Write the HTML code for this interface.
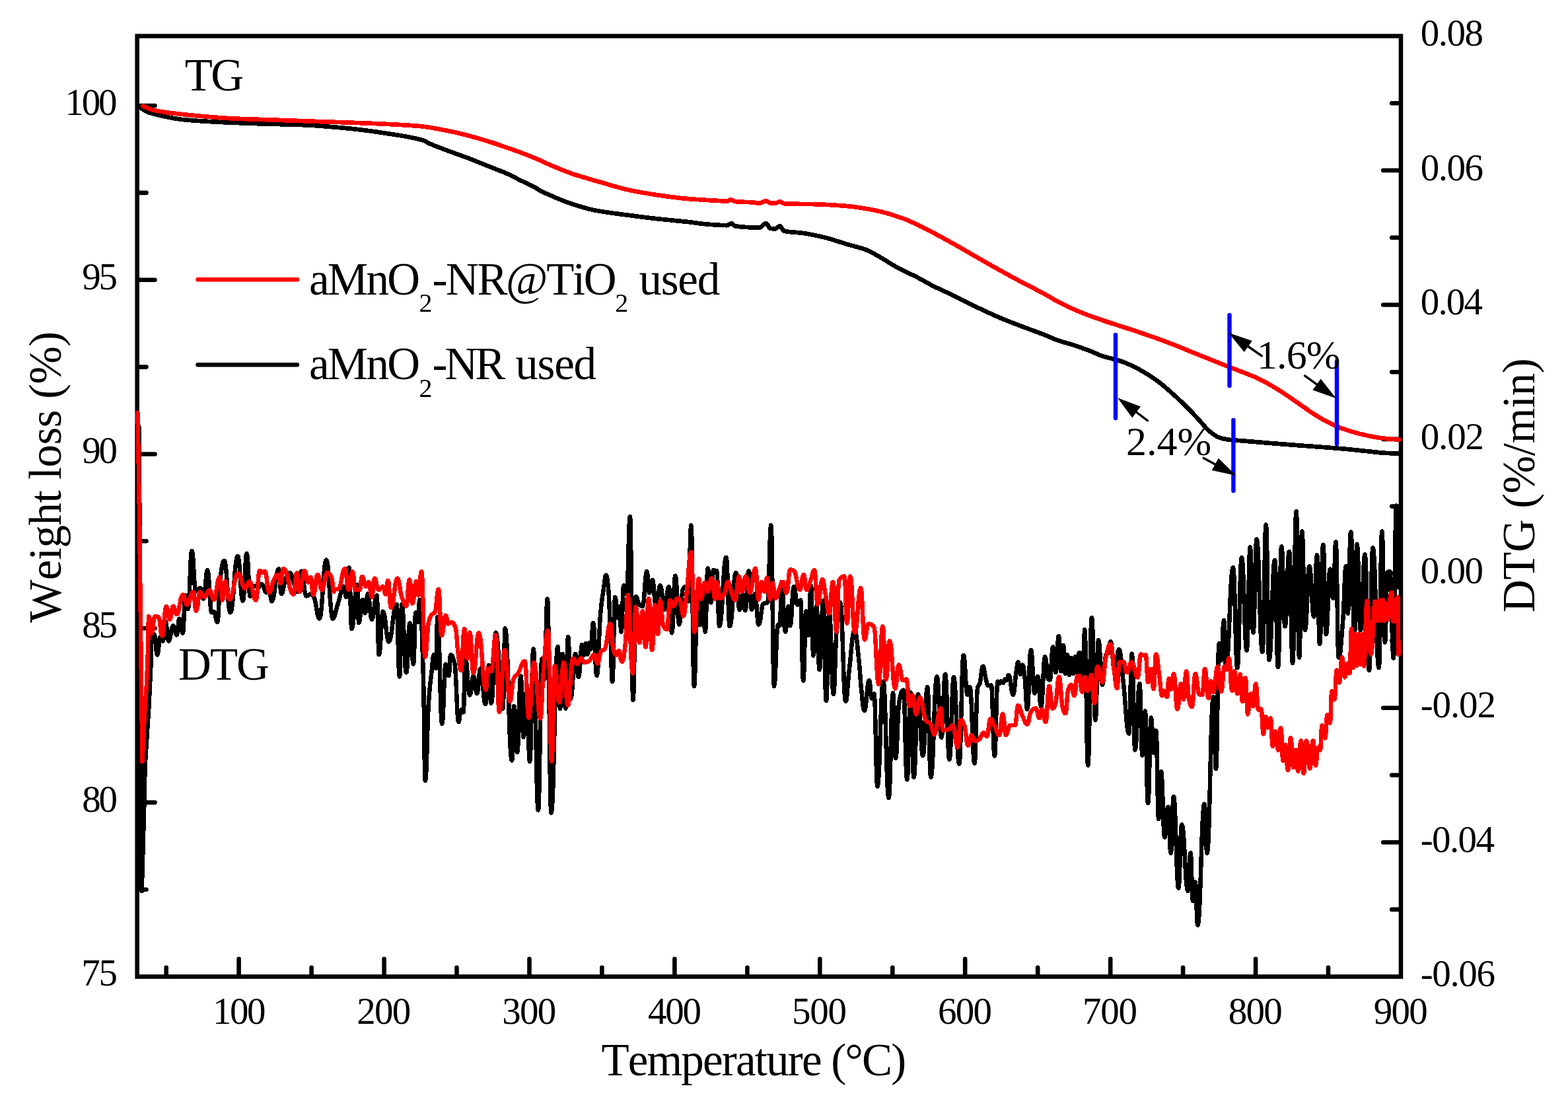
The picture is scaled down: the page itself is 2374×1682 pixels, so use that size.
<!DOCTYPE html>
<html lang="en"><head><meta charset="utf-8"><title>TG / DTG</title>
<style>html,body{margin:0;padding:0;background:#fff}body{width:2374px;height:1682px;overflow:hidden}svg{display:block}text{font-family:"Liberation Serif","Times New Roman",serif;fill:#000;white-space:pre;font-kerning:none}</style>
</head><body>
<svg width="2374" height="1682" viewBox="0 0 2374 1682">
<rect width="2374" height="1682" fill="#fff"/>
<g stroke="#000" stroke-width="6.6" fill="none" stroke-linecap="round">
<line x1="251.7" y1="1477.6" x2="251.7" y2="1464.8"/>
<line x1="361.6" y1="1477.6" x2="361.6" y2="1451.8"/>
<line x1="471.6" y1="1477.6" x2="471.6" y2="1464.8"/>
<line x1="581.6" y1="1477.6" x2="581.6" y2="1451.8"/>
<line x1="691.5" y1="1477.6" x2="691.5" y2="1464.8"/>
<line x1="801.5" y1="1477.6" x2="801.5" y2="1451.8"/>
<line x1="911.4" y1="1477.6" x2="911.4" y2="1464.8"/>
<line x1="1021.4" y1="1477.6" x2="1021.4" y2="1451.8"/>
<line x1="1131.4" y1="1477.6" x2="1131.4" y2="1464.8"/>
<line x1="1241.3" y1="1477.6" x2="1241.3" y2="1451.8"/>
<line x1="1351.3" y1="1477.6" x2="1351.3" y2="1464.8"/>
<line x1="1461.2" y1="1477.6" x2="1461.2" y2="1451.8"/>
<line x1="1571.2" y1="1477.6" x2="1571.2" y2="1464.8"/>
<line x1="1681.2" y1="1477.6" x2="1681.2" y2="1451.8"/>
<line x1="1791.1" y1="1477.6" x2="1791.1" y2="1464.8"/>
<line x1="1901.1" y1="1477.6" x2="1901.1" y2="1451.8"/>
<line x1="2011.0" y1="1477.6" x2="2011.0" y2="1464.8"/>
<line x1="208.7" y1="1346.7" x2="221.5" y2="1346.7"/>
<line x1="208.7" y1="1214.9" x2="234.5" y2="1214.9"/>
<line x1="208.7" y1="1083.0" x2="221.5" y2="1083.0"/>
<line x1="208.7" y1="951.2" x2="234.5" y2="951.2"/>
<line x1="208.7" y1="819.3" x2="221.5" y2="819.3"/>
<line x1="208.7" y1="687.5" x2="234.5" y2="687.5"/>
<line x1="208.7" y1="555.6" x2="221.5" y2="555.6"/>
<line x1="208.7" y1="423.8" x2="234.5" y2="423.8"/>
<line x1="208.7" y1="291.9" x2="221.5" y2="291.9"/>
<line x1="208.7" y1="160.1" x2="234.5" y2="160.1"/>
<line x1="2120.0" y1="1376.9" x2="2107.2" y2="1376.9"/>
<line x1="2120.0" y1="1275.2" x2="2094.2" y2="1275.2"/>
<line x1="2120.0" y1="1173.5" x2="2107.2" y2="1173.5"/>
<line x1="2120.0" y1="1071.7" x2="2094.2" y2="1071.7"/>
<line x1="2120.0" y1="970.0" x2="2107.2" y2="970.0"/>
<line x1="2120.0" y1="868.3" x2="2094.2" y2="868.3"/>
<line x1="2120.0" y1="766.6" x2="2107.2" y2="766.6"/>
<line x1="2120.0" y1="664.9" x2="2094.2" y2="664.9"/>
<line x1="2120.0" y1="563.2" x2="2107.2" y2="563.2"/>
<line x1="2120.0" y1="461.5" x2="2094.2" y2="461.5"/>
<line x1="2120.0" y1="359.7" x2="2107.2" y2="359.7"/>
<line x1="2120.0" y1="258.0" x2="2094.2" y2="258.0"/>
<line x1="2120.0" y1="156.3" x2="2107.2" y2="156.3"/>
</g>
<rect x="207.7" y="54.6" width="1913.3" height="1424.0" stroke="#000" stroke-width="6.6" fill="none"/>
<g fill="none" stroke-linejoin="round" stroke-linecap="round" shape-rendering="crispEdges">
<path stroke="#000" stroke-width="6.5" d="M210.3,646.0L211.6,800.0L212.9,1050.0L214.7,1349.0L218.2,1225.0L219.6,1160.0L225.5,1069.0L228.3,1010.0 M228.3,1010.0C228.9,989.3 229.0,965.5 229.6,964.1C231.4,960.0 231.8,960.2 233.6,960.2C235.6,960.2 236.1,991.6 238.1,991.6C240.2,991.6 240.7,964.1 242.7,964.1C244.5,964.1 244.9,970.6 246.6,970.6C248.4,970.6 248.8,940.5 250.6,940.5C252.6,940.5 253.1,970.6 255.2,970.6C258.4,970.6 259.1,947.1 262.4,947.1C264.7,947.1 265.2,961.5 267.6,961.5C269.4,961.5 269.8,936.6 271.5,936.6C273.9,936.6 274.4,958.8 276.8,958.8C278.5,958.8 278.9,901.3 280.7,901.3C282.4,901.3 282.8,922.2 284.6,922.2C287.3,922.2 287.8,833.8 290.5,833.8C293.1,833.8 293.7,894.7 296.4,894.7C299.3,894.7 300.0,890.1 302.9,890.1C305.3,890.1 305.8,906.5 308.2,906.5C310.8,906.5 311.4,863.3 314.1,863.3C317.0,863.3 317.7,927.4 320.6,927.4C322.1,927.4 322.4,926.1 323.9,926.1C326.2,926.1 326.8,941.8 329.1,941.8C331.2,941.8 331.6,887.6 333.7,873.8C336.3,855.9 336.9,848.9 339.6,848.9C343.7,848.9 344.6,927.4 348.7,927.4C353.8,927.4 354.9,841.7 359.9,841.7C363.4,841.7 364.2,909.8 367.7,909.8C370.4,909.8 371.0,837.8 373.6,837.8C376.0,837.8 376.5,903.2 378.8,903.2C381.2,903.2 381.7,886.9 384.1,886.9C387.0,886.9 387.7,889.5 390.6,889.5C393.0,889.5 393.5,884.2 395.9,884.2C399.4,884.2 400.2,897.3 403.7,897.3C405.2,897.3 405.5,889.5 407.0,889.5C409.1,889.5 409.5,910.4 411.6,910.4C416.3,910.4 417.3,861.3 422.0,861.3C423.8,861.3 424.2,899.3 426.0,899.3C428.9,899.3 429.6,882.3 432.5,876.4C435.5,870.5 436.1,867.2 439.1,867.2C441.4,867.2 441.9,875.8 444.3,881.6C447.2,888.9 447.9,896.0 450.8,896.0C453.2,896.0 453.7,864.6 456.1,864.6C459.6,864.6 460.4,902.6 463.9,902.6C467.5,902.6 468.2,898.6 471.8,898.6C473.5,898.6 473.9,901.2 475.7,905.2C479.2,913.1 480.0,936.6 483.6,936.6C488.3,936.6 489.3,847.6 494.0,847.6C498.2,847.6 499.1,925.6 503.2,935.9C503.3,936.3 503.4,936.5 503.5,936.5C507.4,936.5 508.3,923.5 512.2,912.1C515.8,901.5 516.7,887.7 520.3,887.7C522.1,887.7 522.6,904.0 524.4,904.0C526.2,904.0 526.6,859.3 528.4,859.3C530.3,859.3 530.7,952.1 532.5,952.1C536.2,952.1 537.0,885.0 540.6,885.0C541.9,885.0 542.1,943.3 543.3,943.3C545.8,943.3 546.3,908.0 548.8,908.0C550.6,908.0 551.0,928.4 552.8,928.4C554.7,928.4 555.1,898.6 556.9,898.6C559.6,898.6 560.2,937.8 563.0,937.8C566.3,937.8 567.1,901.3 570.4,901.3C572.0,901.3 572.3,991.3 573.8,991.3C576.6,991.3 577.2,925.6 579.9,925.6C583.9,925.6 584.8,971.7 588.7,971.7C593.9,971.7 595.0,914.8 600.2,914.8C602.4,914.8 602.8,1024.5 605.0,1024.5C606.5,1024.5 606.8,914.8 608.4,914.8C611.4,914.8 612.1,1018.4 615.1,1018.4C617.6,1018.4 618.1,943.3 620.5,943.3C623.0,943.3 623.5,1005.6 626.0,1005.6C627.5,1005.6 627.8,927.0 629.4,927.0C630.9,927.0 631.2,941.9 632.7,941.9C634.0,941.9 634.2,908.0 635.4,908.0C637.9,908.0 638.4,945.9 640.9,1023.2C642.2,1065.7 642.5,1181.9 643.8,1181.9C646.2,1181.9 646.7,1097.1 649.0,1063.8C650.8,1037.5 651.2,1036.4 653.1,1020.5C654.9,1004.6 655.3,990.7 657.1,990.7C658.3,990.7 658.6,1012.3 659.8,1012.3C661.0,1012.3 661.3,933.8 662.5,933.8C665.6,933.8 666.3,1095.9 669.3,1095.9C671.7,1095.9 672.3,1005.6 674.7,1005.6C676.9,1005.6 677.3,1023.2 679.5,1023.2C680.7,1023.2 681.0,991.3 682.2,991.3C684.9,991.3 685.5,994.1 688.3,1004.2C691.0,1014.3 691.6,1093.2 694.4,1093.2C696.0,1093.2 696.4,1074.6 698.0,1074.6C699.6,1074.6 700.0,1078.3 701.5,1078.3C702.9,1078.3 703.2,996.1 704.5,996.1C707.6,996.1 708.2,1052.6 711.3,1052.6C713.7,1052.6 714.3,1023.2 716.7,1023.2C719.2,1023.2 719.7,1049.9 722.1,1049.9C724.6,1049.9 725.1,1012.3 727.5,1012.3C730.9,1012.3 731.6,1066.1 735.0,1066.1C737.4,1066.1 738.0,1006.9 740.4,1006.9C741.9,1006.9 742.3,1064.8 743.8,1064.8C746.9,1064.8 747.5,957.5 750.6,957.5C755.5,957.5 756.5,1072.9 761.4,1072.9C762.9,1072.9 763.3,951.4 764.8,951.4C769.4,951.4 770.4,1151.4 775.0,1151.4C776.5,1151.4 776.8,1068.8 778.3,1068.8C780.5,1068.8 780.9,1139.2 783.1,1139.2C785.5,1139.2 786.1,1023.2 788.5,1023.2C790.3,1023.2 790.7,1116.2 792.6,1116.2C794.8,1116.2 795.3,1045.0 797.5,1045.0C799.5,1045.0 800.0,1152.7 802.0,1152.7C804.5,1152.7 805.1,982.4 807.6,982.4C810.9,982.4 811.6,1226.6 814.9,1226.6C817.4,1226.6 818.0,997.2 820.5,997.2C822.2,997.2 822.5,1028.6 824.2,1028.6C826.3,1028.6 826.7,906.7 828.8,906.7C831.4,906.7 831.9,1230.6 834.5,1230.6C839.0,1230.6 840.0,978.8 844.5,978.8C846.1,978.8 846.4,1072.8 848.0,1072.8C849.8,1072.8 850.1,989.8 851.9,989.8C853.8,989.8 854.3,1072.8 856.2,1072.8C858.0,1072.8 858.4,964.0 860.2,964.0C861.9,964.0 862.2,1058.2 863.9,1058.2C867.2,1058.2 868.0,989.8 871.3,989.8C873.4,989.8 873.8,1024.9 875.9,1024.9C878.4,1024.9 879.0,976.0 881.4,976.0C882.7,976.0 883.0,991.7 884.2,991.7C885.5,991.7 885.7,974.1 887.0,974.1C888.2,974.1 888.5,990.8 889.8,990.8C890.8,990.8 891.1,973.2 892.2,973.2C893.2,973.2 893.5,982.5 894.6,982.5C896.1,982.5 896.5,942.7 898.1,942.7C900.6,942.7 901.1,1023.1 903.6,1023.1C906.1,1023.1 906.7,955.3 909.2,928.9C911.4,905.1 911.9,904.9 914.1,890.1C915.6,880.2 916.0,870.7 917.5,870.7C919.0,870.7 919.3,875.7 920.8,888.2C922.3,900.7 922.6,920.7 924.1,954.7C925.5,985.0 925.7,1032.3 927.1,1032.3C929.0,1032.3 929.4,903.9 931.3,903.9C933.4,903.9 933.9,936.3 935.9,936.3C936.8,936.3 937.0,917.8 937.8,917.8C939.0,917.8 939.3,956.6 940.6,956.6C942.2,956.6 942.6,886.4 944.3,886.4C946.3,886.4 946.8,899.3 948.9,899.3C951.1,899.3 951.6,782.0 953.9,782.0C955.9,782.0 956.4,1060.0 958.5,1060.0C960.4,1060.0 960.8,903.0 962.7,903.0C965.2,903.0 965.8,914.3 968.3,915.9C970.4,917.3 970.8,917.8 972.9,917.8C975.8,917.8 976.4,865.1 979.4,865.1C981.0,865.1 981.4,897.5 983.1,897.5C985.1,897.5 985.6,878.1 987.7,878.1C990.2,878.1 990.7,917.8 993.2,917.8C996.1,917.8 996.8,886.4 999.7,886.4C1002.6,886.4 1003.2,923.3 1006.1,923.3C1009.1,923.3 1009.7,888.2 1012.6,888.2C1014.7,888.2 1015.2,958.4 1017.2,958.4C1019.6,958.4 1020.1,871.6 1022.4,871.6C1025.1,871.6 1025.7,945.5 1028.3,945.5C1030.8,945.5 1031.4,895.5 1033.9,891.9C1035.9,888.9 1036.4,888.2 1038.5,888.2C1040.1,888.2 1040.5,910.4 1042.2,910.4C1044.1,910.4 1044.5,794.9 1046.4,794.9C1048.4,794.9 1048.9,1038.8 1050.9,1038.8C1053.2,1038.8 1053.7,899.3 1056.0,899.3C1057.7,899.3 1058.1,946.4 1059.7,946.4C1061.4,946.4 1061.8,899.3 1063.4,899.3C1065.3,899.3 1065.8,956.6 1067.7,956.6C1069.5,956.6 1069.9,860.5 1071.7,860.5C1073.8,860.5 1074.3,912.3 1076.3,912.3C1078.0,912.3 1078.4,863.3 1080.0,863.3C1082.1,863.3 1082.6,864.2 1084.7,864.2C1084.8,864.2 1084.8,864.2 1085.0,864.2C1086.9,864.2 1087.3,948.3 1089.2,948.3C1093.8,948.3 1094.8,843.9 1099.4,843.9C1101.9,843.9 1102.4,948.3 1104.9,948.3C1109.1,948.3 1110.0,867.0 1114.2,867.0C1116.7,867.0 1117.2,923.3 1119.7,923.3C1121.8,923.3 1122.3,899.3 1124.3,899.3C1126.2,899.3 1126.6,924.3 1128.4,924.3C1130.7,924.3 1131.2,864.2 1133.6,864.2C1135.7,864.2 1136.1,923.3 1138.2,923.3C1140.3,923.3 1140.7,899.3 1142.8,899.3C1145.5,899.3 1146.1,945.5 1148.7,945.5C1151.9,945.5 1152.6,915.8 1155.7,914.1C1158.7,912.6 1159.3,914.0 1162.2,912.3C1164.5,910.9 1165.1,794.9 1167.4,794.9C1169.5,794.9 1169.9,1038.8 1172.0,1038.8C1174.7,1038.8 1175.3,945.5 1177.9,945.5C1179.2,945.5 1179.4,947.4 1180.7,947.4C1181.9,947.4 1182.2,880.8 1183.5,880.8C1185.9,880.8 1186.5,956.6 1189.0,956.6C1191.1,956.6 1191.5,917.8 1193.6,917.8C1194.9,917.8 1195.1,947.4 1196.4,947.4C1198.9,947.4 1199.4,888.2 1201.9,888.2C1204.4,888.2 1205.0,915.9 1207.5,915.9C1209.5,915.9 1210.0,908.6 1212.1,908.6C1213.9,908.6 1214.3,1030.5 1216.2,1030.5C1218.1,1030.5 1218.5,925.2 1220.4,925.2C1222.1,925.2 1222.4,962.1 1224.1,962.1C1225.8,962.1 1226.1,886.4 1227.8,886.4C1229.5,886.4 1229.8,992.6 1231.5,992.6C1233.6,992.6 1234.0,917.8 1236.1,917.8C1238.2,917.8 1238.6,1013.9 1240.7,1013.9C1243.2,1013.9 1243.8,909.5 1246.3,909.5C1248.3,909.5 1248.8,1061.0 1250.9,1061.0C1253.0,1061.0 1253.4,927.0 1255.5,927.0C1258.4,927.0 1259.1,1050.8 1262.0,1050.8C1264.0,1050.8 1264.5,978.4 1266.6,954.7C1269.1,926.4 1269.6,912.3 1272.1,912.3C1275.9,912.3 1276.7,1061.9 1280.4,1061.9C1282.7,1061.9 1283.2,1035.6 1285.5,1016.9C1289.3,986.5 1290.1,954.7 1293.9,954.7C1296.8,954.7 1297.4,972.6 1300.3,998.5C1302.0,1013.2 1302.4,1027.7 1304.0,1042.8C1306.1,1061.7 1306.6,1076.1 1308.6,1076.1C1312.0,1076.1 1312.7,1029.9 1316.0,1029.9C1317.7,1029.9 1318.1,1057.6 1319.7,1057.6C1321.4,1057.6 1321.8,1050.2 1323.4,1050.2C1325.7,1050.2 1326.2,1190.6 1328.4,1190.6C1332.4,1190.6 1333.3,1031.7 1337.3,1031.7C1341.0,1031.7 1341.8,1208.2 1345.6,1208.2C1348.5,1208.2 1349.1,1049.3 1352.0,1049.3C1353.9,1049.3 1354.3,1148.1 1356.1,1148.1C1358.4,1148.1 1359.0,1074.8 1361.3,1063.1C1364.2,1048.6 1364.8,1044.7 1367.8,1044.7C1370.2,1044.7 1370.8,1180.4 1373.3,1180.4C1375.8,1180.4 1376.3,1048.4 1378.8,1048.4C1380.9,1048.4 1381.4,1176.7 1383.5,1176.7C1386.4,1176.7 1387.0,1051.1 1389.9,1051.1C1393.2,1051.1 1394.0,1144.4 1397.3,1144.4C1400.4,1144.4 1401.1,1040.0 1404.1,1040.0C1406.5,1040.0 1407.0,1176.7 1409.3,1176.7C1413.5,1176.7 1414.4,1024.3 1418.6,1024.3C1421.6,1024.3 1422.3,1116.7 1425.4,1116.7C1428.0,1116.7 1428.5,1020.6 1431.1,1020.6C1433.9,1020.6 1434.6,1150.0 1437.4,1150.0C1440.4,1150.0 1441.1,1025.3 1444.0,1025.3C1447.7,1025.3 1448.5,1156.4 1452.2,1156.4C1455.2,1156.4 1455.8,992.0 1458.8,992.0C1461.5,992.0 1462.1,1052.0 1464.7,1052.0C1466.4,1052.0 1466.8,1040.0 1468.4,1040.0C1471.6,1040.0 1472.3,1155.5 1475.5,1155.5C1477.5,1155.5 1478.0,1047.5 1480.1,1041.0C1481.5,1036.6 1481.8,1039.0 1483.2,1035.4C1485.5,1029.7 1486.0,1008.6 1488.2,1008.6C1490.1,1008.6 1490.5,1020.3 1492.5,1027.1C1494.1,1033.0 1494.5,1038.2 1496.1,1038.2C1498.2,1038.2 1498.7,1037.6 1500.8,1037.6C1503.0,1037.6 1503.5,1144.4 1505.8,1144.4C1507.9,1144.4 1508.4,1031.7 1510.6,1031.7C1511.7,1031.7 1512.0,1034.7 1513.1,1034.7C1514.4,1034.7 1514.7,1031.4 1515.9,1031.4C1517.2,1031.4 1517.4,1033.9 1518.7,1033.9C1519.9,1033.9 1520.2,1028.4 1521.5,1028.4C1522.7,1028.4 1523.0,1029.9 1524.2,1029.9C1525.5,1029.9 1525.8,1021.8 1527.0,1021.8C1530.2,1021.8 1530.9,1052.0 1534.0,1052.0C1536.1,1052.0 1536.6,1029.1 1538.6,1016.9C1540.0,1009.2 1540.3,1002.5 1541.6,1002.5C1543.2,1002.5 1543.5,1020.8 1545.1,1020.8C1546.5,1020.8 1546.8,1006.6 1548.2,1006.6C1549.7,1006.6 1550.1,1014.1 1551.6,1026.2C1553.2,1039.6 1553.6,1074.2 1555.3,1074.2C1557.8,1074.2 1558.3,983.7 1560.8,983.7C1563.4,983.7 1563.9,1049.6 1566.5,1049.6C1568.5,1049.6 1569.0,1023.8 1571.1,1023.8C1573.4,1023.8 1573.9,1070.0 1576.3,1070.0C1578.9,1070.0 1579.5,994.2 1582.2,994.2C1584.7,994.2 1585.2,1029.3 1587.7,1029.3C1588.5,1029.3 1588.7,1029.3 1589.6,1029.3C1591.6,1029.3 1592.1,979.4 1594.2,979.4C1596.1,979.4 1596.5,1018.2 1598.4,1018.2C1600.4,1018.2 1600.9,962.8 1602.9,962.8C1604.4,962.8 1604.8,1016.4 1606.4,1016.4C1607.9,1016.4 1608.3,976.7 1609.9,976.7C1611.3,976.7 1611.6,1020.1 1613.0,1020.1C1614.4,1020.1 1614.6,991.4 1616.0,991.4C1617.3,991.4 1617.6,1021.9 1618.9,1021.9C1620.3,1021.9 1620.7,995.7 1622.1,995.7C1623.4,995.7 1623.7,1020.1 1625.0,1020.1C1626.4,1020.1 1626.8,993.8 1628.2,993.8C1629.5,993.8 1629.8,1019.7 1631.1,1019.7C1632.4,1019.7 1632.6,987.8 1633.9,987.8C1635.0,987.8 1635.2,1020.1 1636.3,1020.1C1637.2,1020.1 1637.4,988.3 1638.3,988.3C1639.1,988.3 1639.2,1040.4 1640.0,1040.4C1641.0,1040.4 1641.2,952.7 1642.2,952.7C1644.5,952.7 1645.0,1158.6 1647.2,1158.6C1649.8,1158.6 1650.3,935.1 1652.9,935.1C1655.4,935.1 1656.0,1090.3 1658.5,1090.3C1660.5,1090.3 1661.0,969.3 1663.1,969.3C1665.7,969.3 1666.3,1036.7 1669.0,1036.7C1671.5,1036.7 1672.0,992.7 1674.5,990.5C1676.2,989.0 1676.6,990.2 1678.2,988.7C1679.6,987.3 1680.0,971.1 1681.4,971.1C1684.1,971.1 1684.7,1014.5 1687.5,1014.5C1690.5,1014.5 1691.2,983.1 1694.3,983.1C1697.0,983.1 1697.7,1006.7 1700.4,1029.3C1704.4,1062.2 1705.3,1110.6 1709.3,1110.6C1711.3,1110.6 1711.7,989.6 1713.7,989.6C1715.9,989.6 1716.3,1135.5 1718.5,1135.5C1721.6,1135.5 1722.3,1034.8 1725.4,1034.8C1727.3,1034.8 1727.7,1144.0 1729.6,1144.0C1731.4,1144.0 1731.8,1076.4 1733.7,1076.4C1735.7,1076.4 1736.1,1216.1 1738.1,1216.1C1740.3,1216.1 1740.7,1086.6 1742.9,1086.6C1744.6,1086.6 1744.9,1140.1 1746.6,1140.1C1748.3,1140.1 1748.6,1106.0 1750.3,1106.0C1752.0,1106.0 1752.4,1240.1 1754.2,1240.1C1755.8,1240.1 1756.2,1168.0 1757.9,1168.0C1760.4,1168.0 1760.9,1267.8 1763.4,1267.8C1765.7,1267.8 1766.2,1221.6 1768.4,1221.6C1770.3,1221.6 1770.7,1291.8 1772.7,1291.8C1774.6,1291.8 1775.0,1205.9 1776.9,1205.9C1780.2,1205.9 1781.0,1344.5 1784.3,1344.5C1786.5,1344.5 1787.0,1248.4 1789.3,1248.4C1793.4,1248.4 1794.4,1349.1 1798.5,1349.1C1800.3,1349.1 1800.8,1290.9 1802.6,1290.9C1804.1,1290.9 1804.4,1363.9 1805.9,1363.9C1807.6,1363.9 1807.9,1335.2 1809.6,1335.2C1811.3,1335.2 1811.6,1400.8 1813.3,1400.8C1817.9,1400.8 1818.9,1217.0 1823.5,1217.0C1825.3,1217.0 1825.7,1291.8 1827.5,1291.8C1831.8,1291.8 1832.8,1055.2 1837.1,1055.2C1838.9,1055.2 1839.3,1164.3 1841.0,1164.3C1843.1,1164.3 1843.6,974.3 1845.7,974.3C1846.9,974.3 1847.2,1000.2 1848.5,1000.2C1850.6,1000.2 1851.0,939.2 1853.1,939.2C1854.5,939.2 1854.8,1009.4 1856.2,1009.4C1861.1,1009.4 1862.1,858.8 1866.9,858.8C1869.9,858.8 1870.5,1011.2 1873.4,1011.2C1876.3,1011.2 1877.0,844.1 1879.9,844.1C1883.4,844.1 1884.1,984.5 1887.6,984.5C1890.0,984.5 1890.5,828.4 1892.8,828.4C1894.9,828.4 1895.4,957.7 1897.4,957.7C1899.8,957.7 1900.3,816.3 1902.6,816.3C1906.5,816.3 1907.4,987.2 1911.3,987.2C1913.8,987.2 1914.3,794.2 1916.8,794.2C1918.9,794.2 1919.4,999.2 1921.4,999.2C1925.4,999.2 1926.2,847.8 1930.1,847.8C1932.3,847.8 1932.8,1010.3 1934.9,1010.3C1937.3,1010.3 1937.9,827.4 1940.3,827.4C1942.6,827.4 1943.1,948.4 1945.5,948.4C1948.4,948.4 1949.0,834.8 1951.9,834.8C1954.3,834.8 1954.8,1003.9 1957.1,1003.9C1959.6,1003.9 1960.1,773.9 1962.6,773.9C1964.6,773.9 1965.1,995.5 1967.1,995.5C1969.0,995.5 1969.4,804.3 1971.3,804.3C1973.4,804.3 1973.9,954.0 1975.9,954.0C1978.9,954.0 1979.5,857.0 1982.4,857.0C1985.5,857.0 1986.2,933.7 1989.2,933.7C1991.4,933.7 1991.9,840.4 1994.0,840.4C1995.9,840.4 1996.3,975.2 1998.1,975.2C2000.4,975.2 2001.0,824.7 2003.3,824.7C2005.3,824.7 2005.7,960.4 2007.7,960.4C2010.5,960.4 2011.1,861.6 2013.8,861.6C2015.9,861.6 2016.4,905.9 2018.4,905.9C2020.3,905.9 2020.7,820.0 2022.5,820.0C2024.4,820.0 2024.8,995.5 2026.7,995.5C2029.7,995.5 2030.3,974.6 2033.2,940.1C2035.3,915.5 2035.8,857.0 2037.8,857.0C2039.1,857.0 2039.4,929.0 2040.6,929.0C2042.7,929.0 2043.1,805.3 2045.2,805.3C2047.7,805.3 2048.3,959.5 2050.8,959.5C2052.4,959.5 2052.8,823.7 2054.5,823.7C2057.0,823.7 2057.5,954.0 2060.0,954.0C2062.9,954.0 2063.6,839.4 2066.5,839.4C2069.4,839.4 2070.0,1014.9 2072.9,1014.9C2075.4,1014.9 2076.0,829.3 2078.5,829.3C2082.6,829.3 2083.6,1011.2 2087.7,1011.2C2089.8,1011.2 2090.3,804.3 2092.3,804.3C2094.4,804.3 2094.9,972.5 2096.9,972.5C2098.6,972.5 2099.0,867.0 2100.6,866.2C2102.3,865.4 2102.7,865.3 2104.3,865.3C2106.8,865.3 2107.4,996.5 2109.9,996.5C2111.7,996.5 2112.1,765.5 2113.9,765.5C2115.0,765.5 2115.3,833.6 2116.3,889.3"/>
<path stroke="#000" stroke-width="6.7" d="M211.0,160.0C212.3,161.5 213.7,163.4 215.0,164.5C217.3,166.4 219.5,167.9 221.8,168.9C229.1,172.0 236.3,173.6 243.6,175.2C254.5,177.6 265.5,179.9 276.4,181.0C294.6,182.9 312.7,183.9 330.9,184.8C352.7,185.9 374.5,186.7 396.3,187.4C418.1,188.1 440.0,188.4 461.8,189.3C483.6,190.2 505.4,192.3 527.2,194.4C549.0,196.5 570.9,199.6 592.7,203.1C609.1,205.7 625.4,207.6 641.8,212.9C644.3,213.7 646.9,215.7 649.4,216.9C659.6,221.6 669.8,225.0 680.0,228.9C690.9,233.0 701.8,236.7 712.7,240.9C723.6,245.1 734.5,249.7 745.4,254.0C752.7,256.9 760.0,259.5 767.3,262.7C774.6,265.9 781.8,270.0 789.1,273.6C796.4,277.2 803.6,280.1 810.9,284.2C813.8,285.8 816.7,288.3 819.6,289.8C824.0,292.1 828.3,293.5 832.7,295.4C836.3,297.0 840.0,298.8 843.6,300.3C850.9,303.3 858.1,306.1 865.4,308.5C876.3,312.1 887.2,315.6 898.1,317.9C905.4,319.4 912.7,320.5 920.0,321.6C930.9,323.2 941.8,324.6 952.7,326.0C967.2,327.9 981.8,329.8 996.3,331.4C1010.8,333.0 1025.4,334.2 1039.9,335.8C1050.8,337.0 1061.8,338.9 1072.7,339.7C1082.1,340.4 1091.6,341.2 1101.0,341.2C1103.2,341.2 1105.4,338.0 1107.6,338.0C1109.4,338.0 1111.2,342.0 1113.0,342.3C1125.3,344.1 1137.7,344.6 1150.0,344.6C1153.3,344.6 1156.5,338.1 1159.8,338.1C1162.0,338.1 1164.2,345.6 1166.4,345.9C1168.9,346.2 1171.5,346.4 1174.0,346.4C1176.2,346.4 1178.3,342.0 1180.5,342.0C1182.7,342.0 1184.8,349.0 1187.0,349.6C1196.5,352.0 1205.9,351.5 1215.4,352.9C1226.3,354.5 1237.3,356.8 1248.2,359.4C1259.1,362.0 1270.0,366.0 1280.9,369.3C1291.8,372.6 1302.7,374.8 1313.6,379.1C1320.9,382.0 1328.1,386.9 1335.4,391.1C1342.7,395.3 1349.9,400.2 1357.2,404.2C1368.1,410.2 1379.1,414.8 1390.0,420.5C1397.3,424.3 1404.5,428.8 1411.8,432.5C1422.7,438.0 1433.6,442.5 1444.5,447.8C1455.4,453.1 1466.3,458.9 1477.2,464.2C1488.1,469.5 1499.1,474.7 1510.0,479.4C1520.9,484.1 1531.8,488.3 1542.7,492.5C1557.2,498.1 1571.8,503.0 1586.3,508.9C1590.9,510.8 1595.4,513.2 1600.0,514.8C1607.9,517.6 1615.7,519.4 1623.6,521.9C1631.4,524.4 1639.3,527.2 1647.1,530.1C1655.0,533.0 1662.8,537.1 1670.7,539.6C1678.6,542.1 1686.4,543.4 1694.3,545.9C1698.2,547.1 1702.1,548.6 1706.0,550.2C1713.9,553.5 1721.7,557.6 1729.6,562.0C1737.5,566.4 1745.3,571.5 1753.2,577.3C1761.0,583.1 1768.9,590.3 1776.7,597.3C1784.6,604.4 1792.4,611.7 1800.3,619.7C1805.8,625.3 1811.3,631.5 1816.8,637.4C1821.5,642.5 1826.2,648.8 1830.9,652.7C1835.6,656.6 1840.4,660.4 1845.1,662.1C1849.8,663.8 1854.5,665.0 1859.2,665.6C1867.1,666.6 1874.9,666.9 1882.8,667.5C1898.5,668.8 1914.2,670.2 1929.9,671.5C1945.6,672.8 1961.3,673.9 1977.0,675.1C1992.7,676.3 2008.4,677.3 2024.1,678.6C2039.8,679.9 2055.6,681.7 2071.3,683.3C2079.1,684.1 2087.0,685.2 2094.8,685.7C2102.7,686.2 2110.5,686.4 2118.4,686.8"/>
<path stroke="#f00" stroke-width="6.5" d="M208.5,625.0L211.2,790.0L213.6,1000.0L215.5,1153.0L219.0,1080.0L221.9,1037.0L224.0,985.0L224.9,934.0 M224.9,934.0C225.0,933.4 225.1,932.7 225.2,932.7C227.2,932.7 227.6,958.8 229.6,958.8C231.7,958.8 232.2,933.3 234.2,933.3C236.9,933.3 237.5,933.4 240.1,934.0C242.5,934.5 243.0,962.8 245.3,962.8C248.3,962.8 248.9,918.3 251.9,918.3C254.2,918.3 254.8,937.9 257.1,937.9C259.5,937.9 260.0,917.6 262.4,917.6C264.7,917.6 265.2,930.1 267.6,930.1C271.7,930.1 272.6,900.6 276.8,900.6C279.7,900.6 280.4,915.7 283.3,915.7C287.4,915.7 288.3,896.0 292.5,896.0C294.5,896.0 295.0,924.8 297.0,924.8C299.7,924.8 300.3,896.0 302.9,896.0C305.9,896.0 306.5,903.9 309.5,903.9C313.0,903.9 313.8,893.4 317.3,893.4C320.3,893.4 320.9,907.8 323.9,907.8C327.7,907.8 328.6,873.8 332.4,873.8C334.4,873.8 334.9,908.5 337.0,908.5C338.7,908.5 339.1,880.3 340.9,880.3C343.8,880.3 344.5,907.8 347.4,907.8C353.3,907.8 354.6,867.9 360.5,867.9C365.2,867.9 366.3,890.8 371.0,890.8C373.9,890.8 374.6,880.3 377.5,880.3C382.0,880.3 382.9,908.5 387.4,908.5C390.0,908.5 390.6,864.0 393.2,864.0C395.0,864.0 395.4,867.2 397.2,867.2C398.9,867.2 399.3,864.6 401.1,864.6C404.0,864.6 404.7,897.3 407.6,897.3C410.6,897.3 411.2,884.5 414.2,879.0C417.1,873.5 417.8,869.8 420.7,869.8C422.5,869.8 422.9,882.9 424.7,882.9C426.7,882.9 427.2,860.7 429.2,860.7C436.0,860.7 437.5,899.9 444.3,899.9C446.6,899.9 447.2,867.2 449.5,867.2C451.3,867.2 451.7,896.0 453.5,896.0C457.0,896.0 457.8,864.0 461.3,864.0C463.7,864.0 464.2,881.6 466.5,881.6C468.3,881.6 468.7,873.8 470.5,873.8C472.2,873.8 472.6,900.6 474.4,900.6C477.3,900.6 478.0,869.8 480.9,869.8C483.9,869.8 484.5,893.4 487.5,893.4C491.0,893.4 491.8,867.2 495.3,867.2C498.3,867.2 498.9,868.5 501.9,873.8C503.7,877.0 504.0,896.0 505.8,896.0C505.9,896.0 506.0,891.8 506.1,891.8C508.8,891.8 509.5,891.8 512.2,891.8C516.8,891.8 517.8,860.6 522.3,860.6C524.8,860.6 525.3,893.1 527.8,893.1C530.5,893.1 531.1,865.4 533.9,865.4C535.7,865.4 536.1,893.1 537.9,893.1C541.0,893.1 541.6,893.1 544.7,893.1C546.2,893.1 546.6,872.8 548.1,872.8C550.8,872.8 551.4,887.7 554.2,887.7C556.0,887.7 556.4,881.0 558.2,881.0C560.4,881.0 560.8,904.0 563.0,904.0C564.8,904.0 565.2,875.5 567.0,875.5C569.8,875.5 570.4,893.1 573.1,893.1C576.2,893.1 576.9,887.7 579.9,887.7C581.7,887.7 582.1,899.9 584.0,899.9C585.5,899.9 585.8,878.9 587.4,878.9C589.5,878.9 590.0,920.2 592.1,920.2C596.4,920.2 597.3,875.5 601.6,875.5C604.6,875.5 605.3,895.7 608.4,904.0C611.4,912.2 612.1,917.5 615.1,917.5C617.3,917.5 617.7,877.6 619.9,877.6C622.0,877.6 622.5,913.5 624.6,913.5C627.0,913.5 627.6,880.3 630.0,880.3C631.6,880.3 631.9,901.3 633.4,901.3C635.5,901.3 636.0,865.4 638.2,865.4C640.6,865.4 641.1,994.7 643.6,994.7C646.0,994.7 646.6,951.8 649.0,941.9C650.8,934.4 651.2,933.3 653.1,931.1C655.5,928.1 656.0,930.3 658.5,927.0C660.9,923.7 661.5,891.8 663.9,891.8C666.0,891.8 666.5,962.2 668.6,962.2C671.4,962.2 672.0,931.7 674.7,931.7C676.6,931.7 677.0,944.6 678.8,944.6C680.6,944.6 681.0,941.9 682.9,941.9C685.9,941.9 686.6,943.0 689.6,950.0C691.3,954.0 691.7,973.7 693.4,986.6C695.5,1002.3 696.0,1015.0 698.0,1015.0C700.3,1015.0 700.9,952.1 703.2,952.1C705.0,952.1 705.4,997.4 707.2,997.4C709.1,997.4 709.5,957.5 711.3,957.5C713.7,957.5 714.3,1019.1 716.7,1019.1C720.4,1019.1 721.2,958.2 724.8,958.2C729.7,958.2 730.8,1044.4 735.7,1044.4C736.9,1044.4 737.2,1012.3 738.4,1012.3C740.8,1012.3 741.4,1016.4 743.8,1016.4C746.9,1016.4 747.5,961.5 750.6,961.5C753.0,961.5 753.6,1078.3 756.0,1078.3C759.7,1078.3 760.5,983.9 764.1,983.9C767.8,983.9 768.6,1062.0 772.2,1062.0C774.7,1062.0 775.2,1032.3 777.7,1027.2C780.7,1020.9 781.4,1023.4 784.4,1019.1C789.0,1012.6 790.0,1000.9 794.6,1000.9C797.3,1000.9 797.9,1087.0 800.6,1087.0C804.2,1087.0 804.9,1002.8 808.5,1002.8C812.9,1002.8 813.8,1087.7 818.2,1087.7C820.0,1087.7 820.5,1047.1 822.3,1025.0C825.6,985.1 826.4,954.7 829.7,954.7C832.2,954.7 832.7,1152.7 835.2,1152.7C837.3,1152.7 837.8,1008.3 839.9,1008.3C843.0,1008.3 843.6,1063.3 846.7,1063.3C849.9,1063.3 850.6,1002.8 853.7,1002.8C856.4,1002.8 856.9,1068.1 859.6,1068.1C863.2,1068.1 864.0,997.2 867.6,997.2C870.5,997.2 871.2,1005.5 874.1,1005.5C876.6,1005.5 877.1,996.3 879.6,996.3C882.1,996.3 882.6,1002.8 885.1,1002.8C888.1,1002.8 888.7,1002.2 891.6,1000.9C895.3,999.2 896.2,990.8 899.9,990.8C902.0,990.8 902.5,1004.6 904.5,1004.6C907.0,1004.6 907.6,988.9 910.1,986.1C912.6,983.4 913.1,985.2 915.6,982.5C919.4,978.3 920.2,943.7 923.9,943.7C926.0,943.7 926.5,975.7 928.6,982.5C930.6,989.2 931.1,991.7 933.2,991.7C934.8,991.7 935.2,985.2 936.9,985.2C938.9,985.2 939.4,1001.8 941.5,1001.8C944.0,1001.8 944.5,995.1 947.0,973.2C948.5,960.1 948.9,901.2 950.4,901.2C953.8,901.2 954.6,1019.4 958.1,1019.4C960.2,1019.4 960.7,918.7 962.7,918.7C965.2,918.7 965.8,973.2 968.3,973.2C970.4,973.2 970.8,925.2 972.9,925.2C975.0,925.2 975.4,979.7 977.5,979.7C979.6,979.7 980.1,905.8 982.1,905.8C984.5,905.8 985.0,984.3 987.3,984.3C989.1,984.3 989.5,915.9 991.4,915.9C993.4,915.9 993.9,960.3 996.0,960.3C997.6,960.3 998.0,909.5 999.7,909.5C1001.8,909.5 1002.2,943.6 1004.3,947.4C1006.8,951.9 1007.3,952.9 1009.8,952.9C1011.9,952.9 1012.4,908.6 1014.5,908.6C1017.0,908.6 1017.5,917.8 1020.0,917.8C1022.5,917.8 1023.1,905.8 1025.5,905.8C1027.6,905.8 1028.1,907.0 1030.2,910.4C1032.2,913.8 1032.7,932.6 1034.8,932.6C1036.9,932.6 1037.3,915.9 1039.4,899.3C1042.6,874.1 1043.3,835.6 1046.4,835.6C1048.7,835.6 1049.2,956.6 1051.4,956.6C1054.3,956.6 1055.0,876.2 1057.9,876.2C1059.5,876.2 1059.9,906.7 1061.6,906.7C1064.1,906.7 1064.6,881.8 1067.1,881.8C1069.2,881.8 1069.7,895.6 1071.7,895.6C1074.2,895.6 1074.8,875.3 1077.3,875.3C1079.8,875.3 1080.3,906.7 1082.8,906.7C1082.9,906.7 1083.0,880.8 1083.1,880.8C1084.2,880.8 1084.4,881.1 1085.5,881.8C1087.6,883.1 1088.1,905.8 1090.2,905.8C1093.1,905.8 1093.7,903.9 1096.6,899.3C1099.1,895.4 1099.7,880.8 1102.2,880.8C1104.7,880.8 1105.2,891.5 1107.7,897.5C1110.2,903.5 1110.8,908.6 1113.3,908.6C1115.7,908.6 1116.3,872.5 1118.8,872.5C1120.9,872.5 1121.3,895.6 1123.4,895.6C1125.9,895.6 1126.5,872.5 1129.0,872.5C1131.9,872.5 1132.5,897.5 1135.4,897.5C1139.2,897.5 1140.0,860.5 1143.7,860.5C1145.8,860.5 1146.3,907.6 1148.4,907.6C1150.4,907.6 1150.9,880.8 1153.0,880.8C1155.1,880.8 1155.5,895.6 1157.6,895.6C1159.3,895.6 1159.6,874.4 1161.3,874.4C1163.4,874.4 1163.8,907.6 1165.9,907.6C1167.6,907.6 1167.9,882.7 1169.6,882.7C1171.7,882.7 1172.1,905.8 1174.2,905.8C1176.7,905.8 1177.3,897.5 1179.8,891.9C1182.3,886.4 1182.8,880.8 1185.3,880.8C1187.8,880.8 1188.4,897.5 1190.8,897.5C1193.3,897.5 1193.9,862.4 1196.4,862.4C1198.9,862.4 1199.4,862.8 1201.9,864.2C1206.1,866.6 1207.0,892.9 1211.2,892.9C1213.7,892.9 1214.2,869.8 1216.7,869.8C1218.8,869.8 1219.2,892.9 1221.3,892.9C1224.2,892.9 1224.9,884.6 1227.8,877.1C1230.1,871.2 1230.6,863.3 1233.0,863.3C1235.2,863.3 1235.7,915.0 1238.0,915.0C1241.3,915.0 1242.0,877.1 1245.3,877.1C1247.4,877.1 1247.9,890.6 1250.0,901.2C1252.5,913.9 1253.0,928.9 1255.5,928.9C1258.0,928.9 1258.6,880.8 1261.0,880.8C1263.5,880.8 1264.1,956.6 1266.6,956.6C1268.3,956.6 1268.6,881.8 1270.3,879.0C1274.0,872.6 1274.9,872.5 1278.6,872.5C1280.3,872.5 1280.6,943.7 1282.3,943.7C1284.5,943.7 1285.0,872.5 1287.3,872.5C1290.4,872.5 1291.1,957.5 1294.3,957.5C1298.3,957.5 1299.2,890.1 1303.2,890.1C1305.8,890.1 1306.4,968.6 1309.1,968.6C1311.6,968.6 1312.1,944.6 1314.6,944.6C1318.4,944.6 1319.2,945.0 1322.9,948.3C1326.3,951.2 1327.0,1036.0 1330.3,1036.0C1333.1,1036.0 1333.7,948.3 1336.4,948.3C1338.7,948.3 1339.2,1028.6 1341.4,1028.6C1343.9,1028.6 1344.5,970.4 1346.9,970.4C1350.7,970.4 1351.5,1042.5 1355.3,1042.5C1357.8,1042.5 1358.3,1006.5 1360.8,1006.5C1363.5,1006.5 1364.2,1029.9 1366.9,1029.9C1369.4,1029.9 1370.0,1028.1 1372.4,1028.1C1374.5,1028.1 1374.9,1068.7 1377.0,1068.7C1379.1,1068.7 1379.5,1052.0 1381.6,1052.0C1384.1,1052.0 1384.7,1081.6 1387.1,1081.6C1389.6,1081.6 1390.2,1055.7 1392.7,1055.7C1396.8,1055.7 1397.8,1085.8 1401.9,1090.8C1405.3,1094.9 1406.0,1092.2 1409.3,1096.4C1411.6,1099.3 1412.2,1112.1 1414.5,1112.1C1418.8,1112.1 1419.8,1072.4 1424.1,1072.4C1425.8,1072.4 1426.1,1105.6 1427.8,1105.6C1431.9,1105.6 1432.9,1105.2 1437.0,1103.8C1439.5,1102.9 1440.1,1098.2 1442.6,1098.2C1445.9,1098.2 1446.6,1131.5 1450.0,1131.5C1452.0,1131.5 1452.5,1089.9 1454.6,1089.9C1457.1,1089.9 1457.6,1092.4 1460.1,1098.2C1462.6,1104.1 1463.2,1128.7 1465.7,1128.7C1468.2,1128.7 1468.7,1113.0 1471.2,1113.0C1473.3,1113.0 1473.7,1122.3 1475.8,1122.3C1479.2,1122.3 1479.9,1121.2 1483.2,1118.6C1485.7,1116.6 1486.3,1109.3 1488.8,1109.3C1491.3,1109.3 1491.8,1114.9 1494.3,1114.9C1496.6,1114.9 1497.1,1088.1 1499.5,1088.1C1502.1,1088.1 1502.7,1093.3 1505.4,1098.2C1508.7,1104.4 1509.4,1113.0 1512.8,1113.0C1515.3,1113.0 1515.8,1080.7 1518.3,1080.7C1520.4,1080.7 1520.9,1113.0 1522.9,1113.0C1525.8,1113.0 1526.5,1098.2 1529.4,1098.2C1532.7,1098.2 1533.5,1098.2 1536.8,1098.2C1538.9,1098.2 1539.3,1067.8 1541.4,1067.8C1544.3,1067.8 1545.0,1077.5 1547.9,1083.5C1551.2,1090.2 1551.9,1096.4 1555.3,1096.4C1557.8,1096.4 1558.3,1081.1 1560.8,1077.9C1564.1,1073.7 1564.9,1072.4 1568.2,1072.4C1570.7,1072.4 1571.2,1087.1 1573.7,1087.1C1575.5,1087.1 1575.8,1073.7 1577.6,1073.7C1580.0,1073.7 1580.6,1093.1 1583.1,1093.1C1585.6,1093.1 1586.1,1038.6 1588.6,1038.6C1590.7,1038.6 1591.2,1072.7 1593.3,1072.7C1595.3,1072.7 1595.8,1071.1 1597.9,1066.3C1600.4,1060.5 1600.9,1024.7 1603.4,1024.7C1605.9,1024.7 1606.5,1064.1 1609.0,1071.8C1610.9,1077.7 1611.3,1080.1 1613.2,1080.1C1615.0,1080.1 1615.4,1049.1 1617.3,1044.1C1619.3,1038.4 1619.8,1036.7 1621.9,1036.7C1624.0,1036.7 1624.4,1053.3 1626.5,1053.3C1628.6,1053.3 1629.0,1025.0 1631.1,1023.8C1632.4,1023.0 1632.6,1022.9 1633.9,1022.9C1636.0,1022.9 1636.4,1047.8 1638.5,1047.8C1640.2,1047.8 1640.5,1024.7 1642.2,1024.7C1644.3,1024.7 1644.7,1045.9 1646.8,1045.9C1649.3,1045.9 1649.9,1021.9 1652.4,1021.9C1654.4,1021.9 1654.9,1064.4 1657.0,1064.4C1659.1,1064.4 1659.5,1009.0 1661.6,1009.0C1664.9,1009.0 1665.7,1033.0 1669.0,1033.0C1671.5,1033.0 1672.0,1004.4 1674.5,994.2C1677.6,981.6 1678.3,974.8 1681.4,974.8C1684.1,974.8 1684.7,1002.0 1687.5,1020.1C1689.1,1031.0 1689.5,1042.3 1691.2,1042.3C1692.8,1042.3 1693.2,1002.5 1694.9,1002.5C1697.8,1002.5 1698.4,1002.5 1701.3,1002.5C1703.4,1002.5 1703.9,1018.2 1705.9,1018.2C1709.3,1018.2 1710.0,1002.5 1713.3,1002.5C1717.5,1002.5 1718.4,1025.6 1722.6,1025.6C1724.6,1025.6 1725.1,990.5 1727.2,990.5C1729.3,990.5 1729.7,992.4 1731.8,992.4C1733.1,992.4 1733.3,991.4 1734.6,991.4C1736.2,991.4 1736.6,1033.0 1738.3,1033.0C1740.4,1033.0 1740.8,1012.7 1742.9,1012.7C1744.6,1012.7 1744.9,1043.2 1746.6,1043.2C1748.3,1043.2 1748.6,990.5 1750.3,990.5C1752.4,990.5 1752.8,1006.0 1754.9,1020.1C1757.0,1034.2 1757.4,1053.3 1759.5,1053.3C1761.2,1053.3 1761.6,1045.9 1763.2,1045.9C1764.9,1045.9 1765.2,1055.2 1766.9,1055.2C1768.2,1055.2 1768.4,1027.5 1769.7,1027.5C1770.9,1027.5 1771.2,1044.1 1772.5,1044.1C1774.5,1044.1 1775.0,1020.1 1777.1,1020.1C1779.6,1020.1 1780.1,1073.7 1782.6,1073.7C1785.1,1073.7 1785.7,1034.9 1788.2,1034.9C1789.8,1034.9 1790.2,1058.9 1791.8,1058.9C1793.8,1058.9 1794.2,1016.4 1796.1,1016.4C1797.9,1016.4 1798.3,1051.6 1800.2,1058.9C1802.2,1067.1 1802.7,1070.0 1804.8,1070.0C1807.0,1070.0 1807.5,1020.1 1809.8,1020.1C1812.5,1020.1 1813.1,1051.5 1815.9,1051.5C1817.9,1051.5 1818.4,1051.5 1820.5,1051.5C1822.1,1051.5 1822.5,1012.7 1824.2,1012.7C1826.7,1012.7 1827.2,1057.0 1829.7,1057.0C1831.4,1057.0 1831.8,1031.2 1833.4,1031.2C1835.1,1031.2 1835.4,1047.8 1837.1,1047.8C1840.0,1047.8 1840.7,1009.0 1843.6,1009.0C1846.1,1009.0 1846.6,1046.9 1849.1,1046.9C1851.2,1046.9 1851.7,1009.0 1853.7,1009.0C1855.0,1009.0 1855.3,1013.9 1856.6,1013.9C1858.4,1013.9 1858.8,996.3 1860.6,996.3C1862.8,996.3 1863.2,1045.7 1865.4,1045.7C1866.9,1045.7 1867.2,1015.9 1868.8,1015.9C1870.9,1015.9 1871.4,1050.4 1873.5,1050.4C1875.3,1050.4 1875.7,1020.6 1877.6,1020.6C1879.1,1020.6 1879.4,1061.9 1881.0,1061.9C1883.1,1061.9 1883.6,1026.1 1885.7,1026.1C1887.2,1026.1 1887.6,1081.6 1889.1,1081.6C1890.9,1081.6 1891.3,1050.4 1893.1,1050.4C1895.0,1050.4 1895.4,1069.4 1897.2,1069.4C1899.0,1069.4 1899.4,1035.5 1901.3,1035.5C1903.1,1035.5 1903.5,1074.8 1905.3,1074.8C1907.2,1074.8 1907.6,1073.5 1909.4,1073.5C1910.9,1073.5 1911.3,1111.4 1912.8,1111.4C1914.3,1111.4 1914.6,1085.0 1916.2,1085.0C1917.7,1085.0 1918.0,1101.9 1919.6,1101.9C1921.4,1101.9 1921.8,1087.0 1923.6,1087.0C1925.1,1087.0 1925.5,1130.3 1927.0,1130.3C1928.8,1130.3 1929.2,1107.3 1931.1,1107.3C1932.9,1107.3 1933.3,1135.8 1935.1,1135.8C1937.0,1135.8 1937.4,1101.9 1939.2,1101.9C1940.7,1101.9 1941.1,1152.0 1942.6,1152.0C1944.1,1152.0 1944.4,1127.6 1946.0,1127.6C1947.8,1127.6 1948.2,1166.2 1950.0,1166.2C1951.9,1166.2 1952.3,1116.8 1954.1,1116.8C1955.9,1116.8 1956.3,1162.2 1958.2,1162.2C1960.0,1162.2 1960.4,1135.1 1962.2,1135.1C1963.6,1135.1 1963.9,1167.6 1965.2,1167.6C1967.2,1167.6 1967.7,1121.5 1969.7,1121.5C1971.5,1121.5 1971.9,1171.0 1973.7,1171.0C1975.6,1171.0 1976.0,1121.5 1977.8,1121.5C1980.2,1121.5 1980.8,1163.5 1983.2,1163.5C1985.3,1163.5 1985.8,1121.5 1988.0,1121.5C1989.8,1121.5 1990.2,1158.8 1992.0,1158.8C1993.5,1158.8 1993.9,1131.7 1995.4,1131.7C1996.9,1131.7 1997.3,1135.8 1998.8,1135.8C2000.0,1135.8 2000.3,1098.5 2001.5,1098.5C2003.6,1098.5 2004.1,1117.5 2006.2,1117.5C2007.8,1117.5 2008.1,1082.3 2009.6,1082.3C2011.5,1082.3 2011.9,1094.5 2013.7,1094.5C2014.9,1094.5 2015.2,1046.4 2016.4,1046.4C2018.2,1046.4 2018.6,1058.6 2020.5,1058.6C2022.0,1058.6 2022.3,1014.5 2023.8,1014.5C2025.7,1014.5 2026.1,1033.5 2027.9,1033.5C2029.7,1033.5 2030.1,994.9 2032.0,994.9C2033.8,994.9 2034.2,1025.4 2036.0,1025.4C2038.2,1025.4 2038.6,1004.4 2040.8,1004.4C2042.0,1004.4 2042.3,1019.3 2043.5,1019.3C2044.7,1019.3 2044.9,952.1 2046.1,952.1C2047.4,952.1 2047.7,1011.2 2048.9,1011.2C2050.2,1011.2 2050.4,959.5 2051.7,959.5C2052.9,959.5 2053.2,1007.6 2054.5,1007.6C2055.7,1007.6 2056.0,959.5 2057.2,959.5C2058.5,959.5 2058.8,1005.7 2060.0,1005.7C2061.1,1005.7 2061.3,960.4 2062.4,960.4C2063.6,960.4 2063.8,1008.5 2065.0,1008.5C2067.2,1008.5 2067.6,909.6 2069.8,909.6C2072.5,909.6 2073.0,990.9 2075.7,990.9C2078.6,990.9 2079.3,910.6 2082.2,910.6C2083.4,910.6 2083.7,940.1 2084.9,940.1C2086.2,940.1 2086.5,908.7 2087.7,908.7C2089.0,908.7 2089.2,940.1 2090.5,940.1C2091.7,940.1 2092.0,907.8 2093.3,907.8C2094.5,907.8 2094.8,940.1 2096.0,940.1C2097.3,940.1 2097.6,913.3 2098.8,913.3C2100.0,913.3 2100.3,938.3 2101.6,938.3C2102.8,938.3 2103.1,915.1 2104.3,907.8C2105.6,900.5 2105.9,896.7 2107.1,896.7C2108.2,896.7 2108.4,941.0 2109.5,941.0C2110.8,941.0 2111.0,907.8 2112.3,907.8C2113.5,907.8 2113.8,941.0 2115.1,941.0C2115.6,941.0 2115.8,904.1 2116.3,904.1C2116.8,904.1 2117.0,951.9 2117.5,990.9"/>
<path stroke="#f00" stroke-width="6.7" d="M216.5,160.6C221.9,162.7 227.3,165.6 232.7,166.9C239.1,168.4 245.6,169.3 252.0,170.2C257.9,171.0 263.9,171.7 269.8,172.4C281.4,173.7 293.1,174.9 304.7,175.9C320.7,177.3 336.7,178.6 352.7,179.4C374.5,180.5 396.4,180.9 418.2,181.7C440.0,182.5 461.8,183.3 483.6,184.1C505.4,184.9 527.2,185.4 549.0,186.3C578.1,187.5 607.2,188.5 636.3,191.1C650.9,192.4 665.4,195.5 680.0,198.4C694.5,201.3 709.1,205.2 723.6,209.3C738.2,213.4 752.7,218.3 767.3,223.4C781.8,228.4 796.4,233.8 810.9,239.8C818.2,242.8 825.4,246.5 832.7,249.6C843.6,254.2 854.5,258.9 865.4,262.7C880.0,267.7 894.5,271.6 909.1,275.8C923.6,280.0 938.2,284.7 952.7,287.8C967.2,290.9 981.8,293.3 996.3,295.4C1010.8,297.5 1025.4,299.7 1039.9,300.9C1054.5,302.1 1069.0,302.9 1083.6,303.7C1089.4,304.0 1095.2,304.6 1101.0,304.6C1103.0,304.6 1105.0,302.2 1107.0,302.2C1108.8,302.2 1110.7,304.8 1112.5,305.0C1121.0,306.0 1129.6,305.7 1138.1,306.3C1142.1,306.6 1146.0,307.5 1150.0,307.5C1153.3,307.5 1156.5,304.2 1159.8,304.2C1162.0,304.2 1164.2,307.5 1166.4,307.5C1168.9,307.5 1171.5,307.5 1174.0,307.5C1176.2,307.5 1178.3,305.3 1180.5,305.3C1182.7,305.3 1184.8,308.1 1187.0,308.2C1203.8,309.1 1220.5,308.8 1237.3,309.3C1251.8,309.8 1266.4,310.7 1280.9,311.9C1295.4,313.1 1310.0,315.5 1324.5,318.4C1339.0,321.3 1353.6,325.9 1368.1,331.1C1382.7,336.4 1397.2,344.4 1411.8,351.8C1426.3,359.2 1440.9,367.6 1455.4,375.8C1469.9,384.0 1484.5,392.7 1499.0,400.9C1513.6,409.1 1528.1,417.1 1542.7,424.9C1557.2,432.7 1571.8,439.6 1586.3,447.8C1590.9,450.4 1595.4,453.5 1600.0,455.9C1611.8,462.2 1623.5,467.6 1635.3,472.4C1647.1,477.3 1658.9,481.3 1670.7,485.4C1686.4,490.8 1702.1,495.4 1717.8,500.7C1733.5,506.0 1749.2,511.3 1764.9,517.2C1780.6,523.1 1796.4,529.7 1812.1,536.0C1827.8,542.3 1843.5,548.6 1859.2,554.9C1874.9,561.2 1890.6,566.3 1906.3,573.7C1914.2,577.4 1922.0,582.0 1929.9,586.7C1937.7,591.4 1945.6,596.7 1953.4,602.0C1961.3,607.3 1969.1,613.2 1977.0,618.5C1984.9,623.8 1992.7,629.3 2000.6,633.8C2008.4,638.2 2016.3,642.4 2024.1,645.6C2032.0,648.8 2039.8,651.5 2047.7,653.8C2055.6,656.1 2063.4,658.1 2071.3,659.7C2079.1,661.3 2087.0,662.8 2094.8,663.7C2102.7,664.6 2110.5,665.0 2118.4,665.6"/>
</g>
<g stroke="#00f" stroke-width="6.4" stroke-linecap="round">
<line x1="1689.0" y1="507.0" x2="1689.0" y2="633.0"/>
<line x1="1861.5" y1="477.0" x2="1861.5" y2="584.0"/>
<line x1="1867.4" y1="636.0" x2="1867.4" y2="743.0"/>
<line x1="2024.0" y1="547.0" x2="2024.0" y2="672.0"/>
</g>
<line x1="1910.4" y1="538.8" x2="1889.8" y2="524.5" stroke="#000" stroke-width="3.4" stroke-linecap="round"/><polygon fill="#000" points="1860.2,504.0 1895.8,515.9 1883.8,533.1"/>
<line x1="1975.5" y1="568.9" x2="1993.6" y2="581.9" stroke="#000" stroke-width="3.4" stroke-linecap="round"/><polygon fill="#000" points="2022.8,602.9 1987.4,590.4 1999.7,573.4"/>
<line x1="1737.5" y1="636.8" x2="1720.6" y2="624.0" stroke="#000" stroke-width="3.4" stroke-linecap="round"/><polygon fill="#000" points="1691.9,602.3 1726.9,615.6 1714.3,632.4"/>
<line x1="1822.2" y1="693.4" x2="1839.8" y2="702.9" stroke="#000" stroke-width="3.4" stroke-linecap="round"/><polygon fill="#000" points="1871.5,720.0 1834.8,712.1 1844.8,693.7"/>
<line x1="299.5" y1="423.2" x2="450" y2="423.2" stroke="#f00" stroke-width="6.4" stroke-linecap="round"/>
<line x1="299.5" y1="552.3" x2="450" y2="552.3" stroke="#000" stroke-width="6.4" stroke-linecap="round"/>
<text x="123.3" y="1492.3" font-size="57" letter-spacing="-2.30">75</text>
<text x="124.3" y="1228.6" font-size="57" letter-spacing="-3.30">80</text>
<text x="124.3" y="964.9" font-size="57" letter-spacing="-3.30">85</text>
<text x="124.3" y="701.2" font-size="57" letter-spacing="-3.30">90</text>
<text x="124.3" y="437.5" font-size="57" letter-spacing="-3.30">95</text>
<text x="98.5" y="173.8" font-size="57" letter-spacing="-3.25">100</text>
<text x="322.0" y="1549.5" font-size="57" letter-spacing="-2.55">100</text>
<text x="540.3" y="1549.5" font-size="57" letter-spacing="-1.75">200</text>
<text x="760.2" y="1549.5" font-size="57" letter-spacing="-1.75">300</text>
<text x="981.1" y="1549.5" font-size="57" letter-spacing="-2.25">400</text>
<text x="1199.0" y="1549.5" font-size="57" letter-spacing="-1.25">500</text>
<text x="1419.9" y="1549.5" font-size="57" letter-spacing="-1.75">600</text>
<text x="1638.9" y="1549.5" font-size="57" letter-spacing="-1.25">700</text>
<text x="1859.8" y="1549.5" font-size="57" letter-spacing="-1.75">800</text>
<text x="2079.7" y="1549.5" font-size="57" letter-spacing="-1.75">900</text>
<text x="2150.7" y="1493.2" font-size="57" letter-spacing="-1.38">-0.06</text>
<text x="2150.7" y="1289.8" font-size="57" letter-spacing="-1.62">-0.04</text>
<text x="2150.7" y="1086.3" font-size="57" letter-spacing="-1.12">-0.02</text>
<text x="2150.7" y="882.9" font-size="57" letter-spacing="-1.47">0.00</text>
<text x="2150.7" y="679.5" font-size="57" letter-spacing="-1.13">0.02</text>
<text x="2150.7" y="476.1" font-size="57" letter-spacing="-1.80">0.04</text>
<text x="2150.7" y="272.6" font-size="57" letter-spacing="-1.47">0.06</text>
<text x="2150.7" y="69.2" font-size="57" letter-spacing="-1.47">0.08</text>
<text x="910.4" y="1627.6" font-size="69" letter-spacing="-1.83">Temperature (°C)</text>
<text x="279.7" y="136.9" font-size="69" letter-spacing="-2.60">TG</text>
<text x="270.1" y="1029.2" font-size="69" letter-spacing="-2.00">DTG</text>
<text x="1903.0" y="558.0" font-size="62" letter-spacing="-0.93">1.6%</text>
<text x="1704.9" y="688.8" font-size="62" letter-spacing="0.07">2.4%</text>
<text transform="translate(91.8,942.8) rotate(-90)" font-size="69" letter-spacing="-0.52">Weight loss (%)</text>
<text transform="translate(2323.4,927.3) rotate(-90)" font-size="69" letter-spacing="-0.39">DTG (%/min)</text>
<text><tspan x="468.0" y="446.4" font-size="69" letter-spacing="-2.77">aMnO</tspan><tspan x="634.5" y="472.3" font-size="40" letter-spacing="0.00">2</tspan><tspan x="654.4" y="446.4" font-size="69" letter-spacing="-2.37">-NR@TiO</tspan><tspan x="931.3" y="472.3" font-size="40" letter-spacing="0.00">2</tspan><tspan font-size="69"> </tspan><tspan x="967.4" y="446.4" font-size="69" letter-spacing="-1.23">used</tspan></text>
<text><tspan x="468.0" y="573.8" font-size="69" letter-spacing="-2.77">aMnO</tspan><tspan x="634.5" y="600.7" font-size="40" letter-spacing="0.00">2</tspan><tspan x="654.4" y="573.8" font-size="69" letter-spacing="-3.95">-NR</tspan><tspan font-size="69"> </tspan><tspan x="780.2" y="573.8" font-size="69" letter-spacing="-1.20">used</tspan></text>
</svg></body></html>
